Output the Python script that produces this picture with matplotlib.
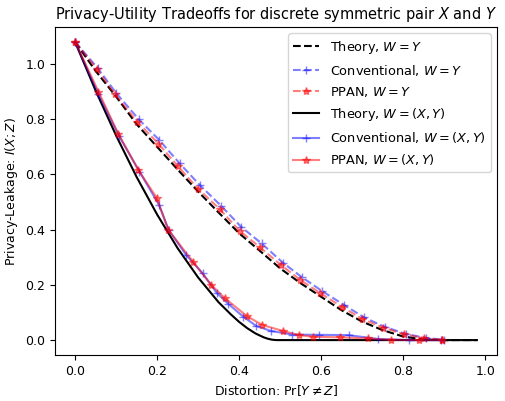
import matplotlib
matplotlib.use("Agg")
import matplotlib.pyplot as plt

# Theory, W = Y
th_y_x = [0.0, 0.05, 0.1, 0.15, 0.2, 0.25, 0.3, 0.35, 0.4, 0.45, 0.5, 0.55, 0.6, 0.65, 0.7, 0.75, 0.8, 0.85, 0.9, 0.98]
th_y_v = [1.08, 0.975, 0.882, 0.782, 0.700, 0.618, 0.538, 0.462, 0.387, 0.324, 0.260, 0.206, 0.157, 0.108, 0.067, 0.036, 0.013, 0.002, 0.0, 0.0]

# Conventional, W = Y
cv_y_x = [0.0, 0.055, 0.1, 0.155, 0.205, 0.255, 0.305, 0.357, 0.405, 0.455, 0.507, 0.553, 0.602, 0.655, 0.705, 0.755, 0.807, 0.855, 0.9]
cv_y_v = [1.08, 0.985, 0.895, 0.80, 0.725, 0.64, 0.56, 0.485, 0.41, 0.35, 0.28, 0.228, 0.178, 0.128, 0.082, 0.048, 0.022, 0.008, 0.001]

# PPAN, W = Y
pp_y_x = [0.0, 0.053, 0.097, 0.152, 0.203, 0.251, 0.30, 0.353, 0.401, 0.45, 0.503, 0.549, 0.598, 0.651, 0.70, 0.752, 0.803, 0.852, 0.896]
pp_y_v = [1.08, 0.982, 0.89, 0.79, 0.712, 0.629, 0.548, 0.474, 0.396, 0.337, 0.271, 0.218, 0.17, 0.12, 0.077, 0.045, 0.021, 0.007, 0.001]

# Theory, W = (X, Y)
th_xy_x = [0.0, 0.05, 0.1, 0.15, 0.2, 0.25, 0.3, 0.35, 0.38, 0.4, 0.42, 0.44, 0.46, 0.47, 0.48, 0.49, 0.6, 0.8, 0.98]
th_xy_v = [1.08, 0.904, 0.741, 0.591, 0.455, 0.333, 0.227, 0.137, 0.093, 0.066, 0.043, 0.024, 0.010, 0.005, 0.0015, 0.0, 0.0, 0.0, 0.0]

# Conventional, W = (X, Y)
cv_xy_x = [0.0, 0.057, 0.107, 0.157, 0.205, 0.228, 0.27, 0.311, 0.345, 0.373, 0.41, 0.442, 0.478, 0.53, 0.596, 0.667, 0.738, 0.815, 0.892]
cv_xy_v = [1.08, 0.89, 0.74, 0.61, 0.489, 0.40, 0.31, 0.242, 0.172, 0.132, 0.085, 0.051, 0.033, 0.02, 0.019, 0.018, 0.004, 0.0, 0.0]

# PPAN, W = (X, Y)
pp_xy_x = [0.0, 0.057, 0.105, 0.154, 0.199, 0.227, 0.288, 0.332, 0.365, 0.419, 0.456, 0.507, 0.546, 0.58, 0.646, 0.714, 0.77, 0.839, 0.896]
pp_xy_v = [1.08, 0.90, 0.748, 0.617, 0.515, 0.40, 0.283, 0.20, 0.152, 0.087, 0.055, 0.033, 0.018, 0.012, 0.01, 0.006, 0.001, 0.0, 0.0]

fig = plt.figure(figsize=(5.05, 4.01), dpi=100)
ax = fig.add_axes([55/505, 1 - 355/401, (497 - 55)/505, (355 - 27)/401])

ax.plot(th_y_x, th_y_v, 'k--', lw=1.5, label=r'Theory, $W=Y$')
ax.plot(cv_y_x, cv_y_v, 'b+--', lw=1.5, alpha=0.5, label=r'Conventional, $W=Y$')
ax.plot(pp_y_x, pp_y_v, 'r*--', lw=1.5, alpha=0.5, label=r'PPAN, $W=Y$')
ax.plot(th_xy_x, th_xy_v, 'k-', lw=1.5, label=r'Theory, $W=(X,Y)$')
ax.plot(cv_xy_x, cv_xy_v, 'b+-', lw=1.5, alpha=0.5, label=r'Conventional, $W=(X,Y)$')
ax.plot(pp_xy_x, pp_xy_v, 'r*-', lw=1.5, alpha=0.5, label=r'PPAN, $W=(X,Y)$')

ax.set_xticks([0.0, 0.2, 0.4, 0.6, 0.8, 1.0])
ax.set_yticks([0.0, 0.2, 0.4, 0.6, 0.8, 1.0])
ax.tick_params(labelsize=9)
ax.set_title(r'Privacy-Utility Tradeoffs for discrete symmetric pair $X$ and $Y$', fontsize=10.5)
ax.set_xlabel(r'Distortion: $\Pr[Y \neq Z]$', fontsize=9)
ax.set_ylabel(r'Privacy-Leakage: $I(X;Z)$', fontsize=9)
ax.legend(loc='upper right', fontsize=9.3, labelspacing=0.55)

fig.savefig('out.png', dpi=100)
